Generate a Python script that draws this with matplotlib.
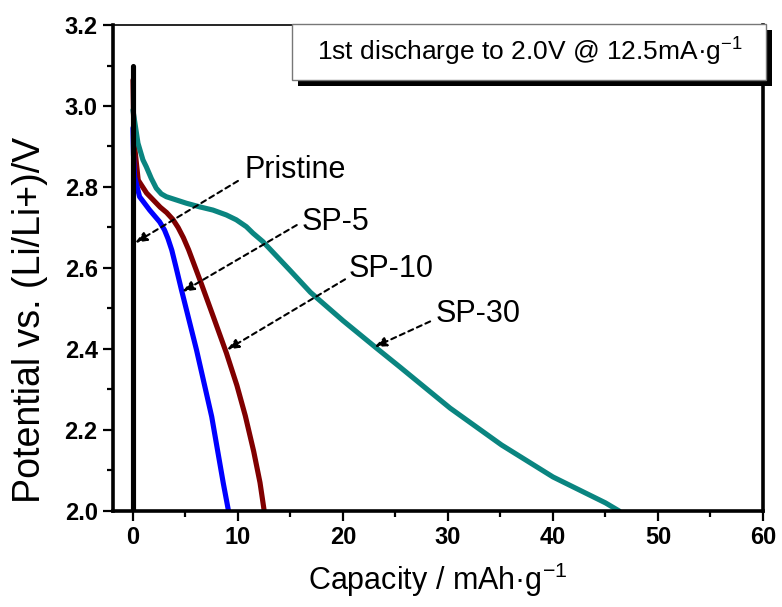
import matplotlib
matplotlib.use("Agg")
import matplotlib.pyplot as plt
from matplotlib.patches import Rectangle
from matplotlib.ticker import MultipleLocator, FormatStrFormatter

plt.rcParams['font.family'] = ['Liberation Sans', 'DejaVu Sans']
plt.rcParams['mathtext.fontset'] = 'custom'
plt.rcParams['mathtext.rm'] = 'Liberation Sans'
plt.rcParams['mathtext.it'] = 'Liberation Sans:italic'
plt.rcParams['mathtext.bf'] = 'Liberation Sans:bold'

# ---- data ----
pristine_x = [0.0, 0.0]
pristine_y = [3.10, 2.0]

sp5_x = [0.0, 0.05, 0.16, 0.63, 1.59, 2.54, 3.0, 3.33, 3.7, 4.1, 4.6, 6.05, 7.5, 8.6, 9.1]
sp5_y = [2.946, 2.88, 2.825, 2.776, 2.743, 2.714, 2.694, 2.673, 2.644, 2.602, 2.548, 2.398,
         2.233, 2.069, 2.0]

sp10_x = [0.0, 0.05, 0.2, 0.5, 1.3, 2.6, 3.2, 3.8, 4.3, 4.8, 5.3, 6.5, 7.65, 8.9, 9.9, 10.7,
          11.5, 12.1, 12.5]
sp10_y = [3.064, 2.98, 2.89, 2.817, 2.785, 2.75, 2.737, 2.72, 2.70, 2.675, 2.645, 2.562, 2.48,
          2.39, 2.31, 2.235, 2.147, 2.07, 2.0]

sp30_x = [0.0, 0.48, 0.95, 1.27, 1.75, 2.22, 2.7, 3.18, 4.13, 5.08, 6.35, 7.62, 8.89, 9.84,
          10.8, 11.43, 12.38, 13.0, 15.0, 16.9, 20.0, 23.2, 25.4, 30.2, 35.1, 40.0, 45.0, 46.3]
sp30_y = [2.990, 2.908, 2.867, 2.850, 2.821, 2.797, 2.783, 2.776, 2.768, 2.760, 2.751, 2.743,
          2.731, 2.719, 2.702, 2.686, 2.665, 2.648, 2.593, 2.540, 2.470, 2.402, 2.356, 2.254,
          2.163, 2.084, 2.02, 2.0]

labels = ["Pristine", "SP-5", "SP-10", "SP-30"]
box_text = "1st discharge to 2.0V @ 12.5mA\u00b7g$^{-1}$"
xlabel = "Capacity / mAh\u00b7g$^{-1}$"
ylabel = "Potential vs. (Li/Li+)/V"

# ---- figure ----
fig = plt.figure(figsize=(7.82, 6.07), dpi=100)
ax = fig.add_axes([0.1445, 0.1582, 0.8312, 0.8006])

lw = 3.7
ax.plot(pristine_x, pristine_y, color='black', lw=lw, solid_capstyle='round', zorder=3)
ax.plot(sp10_x, sp10_y, color='#800000', lw=lw, solid_capstyle='round',
        solid_joinstyle='round', zorder=2)
ax.plot(sp5_x, sp5_y, color='#0000ff', lw=lw, solid_capstyle='round',
        solid_joinstyle='round', zorder=2.5)
ax.plot(sp30_x, sp30_y, color='#0a8580', lw=lw, solid_capstyle='round',
        solid_joinstyle='round', zorder=2.2)

ax.set_xlim(-1.9, 60)
ax.set_ylim(2.0, 3.2)
ax.xaxis.set_major_locator(MultipleLocator(10))
ax.xaxis.set_minor_locator(MultipleLocator(5))
ax.yaxis.set_major_locator(MultipleLocator(0.2))
ax.yaxis.set_minor_locator(MultipleLocator(0.1))
ax.yaxis.set_major_formatter(FormatStrFormatter('%.1f'))

ax.tick_params(which='major', direction='out', length=7, width=1.6, labelsize=17, pad=4,
               top=False, right=False)
ax.tick_params(which='minor', direction='out', length=4, width=1.6, top=False, right=False)
for t in ax.get_xticklabels() + ax.get_yticklabels():
    t.set_fontweight('bold')

for s in ['left', 'bottom', 'right']:
    ax.spines[s].set_linewidth(2.6)
ax.spines['top'].set_linewidth(1.2)

ax.set_xlabel(xlabel, fontsize=22, labelpad=8)
ax.set_ylabel(ylabel, fontsize=27)
ax.yaxis.set_label_coords(-0.1, 0.393)

# annotations: (label, text position, arrow start, arrow tip)
ann = [
    (labels[0], (10.6, 2.822), (10.0, 2.815), (0.2, 2.662)),
    (labels[1], (16.1, 2.694), (15.6, 2.706), (4.7, 2.541)),
    (labels[2], (20.5, 2.578), (20.2, 2.572), (8.95, 2.398)),
    (labels[3], (28.8, 2.467), (28.3, 2.468), (23.0, 2.405)),
]
for lab, tpos, start, tip in ann:
    ax.text(tpos[0], tpos[1], lab, fontsize=22, ha='left', va='baseline', zorder=4)
    ax.annotate('', xy=tip, xytext=start,
                arrowprops=dict(arrowstyle='-|>,head_length=0.7,head_width=0.28',
                                linestyle=(0, (2.5, 2.0)), lw=1.5, color='black',
                                shrinkA=0, shrinkB=0),
                zorder=4)

# title box with shadow, on figure
fig.patches.append(Rectangle((0.3811, 0.8583), 0.6061, 0.0923, transform=fig.transFigure,
                             facecolor='black', edgecolor='none', zorder=5))
fig.patches.append(Rectangle((0.3734, 0.8682), 0.6061, 0.0923, transform=fig.transFigure,
                             facecolor='white', edgecolor='#777777', lw=1.0, zorder=6))
fig.text(0.6777, 0.914, box_text, fontsize=19, ha='center', va='center', zorder=7)

fig.savefig("out.png", dpi=100)
